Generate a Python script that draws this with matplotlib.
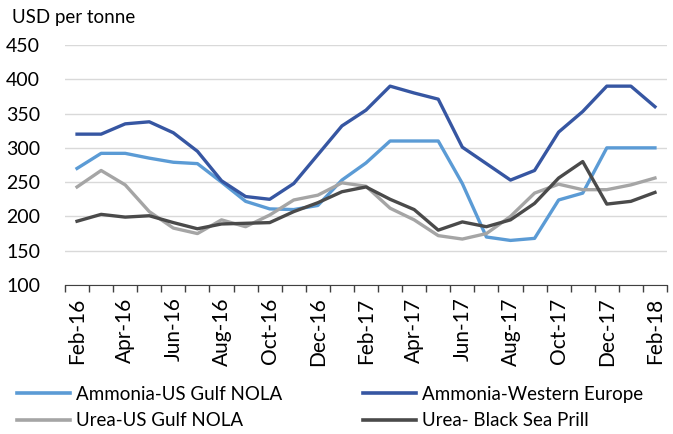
import numpy as np
import matplotlib.pyplot as plt
from matplotlib.lines import Line2D

plt.rcParams['font.family'] = ['Lato', 'DejaVu Sans']

# monthly prices, Feb-16 .. Feb-18
months = ['Feb-16', 'Mar-16', 'Apr-16', 'May-16', 'Jun-16', 'Jul-16', 'Aug-16',
          'Sep-16', 'Oct-16', 'Nov-16', 'Dec-16', 'Jan-17', 'Feb-17', 'Mar-17',
          'Apr-17', 'May-17', 'Jun-17', 'Jul-17', 'Aug-17', 'Sep-17', 'Oct-17',
          'Nov-17', 'Dec-17', 'Jan-18', 'Feb-18']
ammonia_us = [270, 292, 292, 285, 279, 277, 250, 222, 211, 210, 216, 253, 278,
              310, 310, 310, 248, 170, 165, 168, 224, 234, 300, 300, 300]
ammonia_we = [320, 320, 335, 338, 322, 295, 252, 229, 225, 248, 290, 332, 355,
              390, 380, 371, 301, 277, 253, 267, 323, 353, 390, 390, 360]
urea_us = [243, 267, 246, 207, 183, 175, 195, 185, 202, 224, 231, 249, 244,
           212, 195, 172, 167, 175, 200, 234, 247, 239, 239, 246, 256]
urea_bs = [193, 203, 199, 201, 191, 182, 189, 190, 191, 207, 220, 236, 243,
           225, 210, 180, 192, 185, 195, 219, 256, 280, 218, 222, 235]

series = [
    ('Ammonia-US Gulf NOLA', ammonia_us, '#5b9bd5'),
    ('Ammonia-Western Europe', ammonia_we, '#3656a2'),
    ('Urea-US Gulf NOLA', urea_us, '#a5a5a5'),
    ('Urea- Black Sea Prill', urea_bs, '#4a4a4a'),
]

W, H = 673, 434
fig = plt.figure(figsize=(W / 100, H / 100), dpi=100)
ax = fig.add_axes([65 / W, (H - 285) / H, 602 / W, 240 / H])

x = np.arange(len(months))
for name, vals, col in series:
    ax.plot(x, vals, color=col, lw=2.4, solid_joinstyle='round', label=name)

ax.set_xlim(-0.5, len(months) - 0.5)
ax.set_ylim(100, 450)
ax.set_yticks(np.arange(100, 451, 50))
ax.grid(axis='y', color='#d9d9d9', lw=1)
ax.set_axisbelow(True)

ax.set_xticks(x[::2])
ax.set_xticklabels(months[::2], rotation=90)
ax.set_xticks(np.arange(-0.5, len(months)), minor=True)
ax.tick_params(axis='x', which='major', length=0, pad=9, labelsize=15)
ax.tick_params(axis='x', which='minor', length=5, width=1, color='#404040')
ax.tick_params(axis='y', length=0, pad=18, labelsize=14)

for s in ['top', 'right', 'left']:
    ax.spines[s].set_visible(False)
ax.spines['bottom'].set_color('#404040')

fig.text(12 / W, 1 - 18 / H, 'USD per tonne', fontsize=13.5, va='center')

# legend: two single-column blocks side by side
handles = [Line2D([], [], color=c, lw=2.6) for _, _, c in series]
labels = [n for n, _, _ in series]
ymid = 1 - 407.5 / H
for cols, x0 in [((0, 2), 17), ((1, 3), 363)]:
    fig.legend([handles[i] for i in cols], [labels[i] for i in cols],
               loc='center left', bbox_to_anchor=(x0 / W, ymid),
               frameon=False, fontsize=13.5, handlelength=2.85,
               handletextpad=0.27, labelspacing=0.5,
               borderpad=0, borderaxespad=0)

fig.savefig('out.png', dpi=100)
